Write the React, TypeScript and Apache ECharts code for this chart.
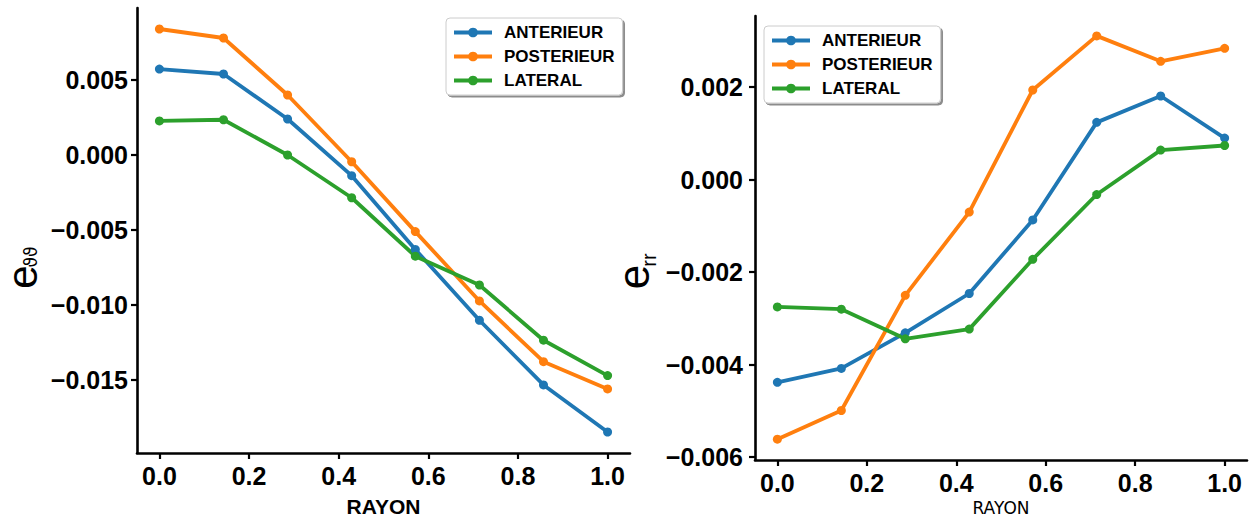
import React, { useEffect, useRef } from "react";
import * as echarts from "echarts";

const rayon = [0, 0.143, 0.286, 0.429, 0.571, 0.714, 0.857, 1.0];
const seriesNames = ["ANTERIEUR", "POSTERIEUR", "LATERAL"];
const colors = ["#1f77b4", "#ff7f0e", "#2ca02c"];

// Left panel: e_theta theta
const ettAnterieur = [0.00573, 0.0054, 0.0024, -0.00138, -0.0063, -0.01102, -0.01533, -0.01847];
const ettPosterieur = [0.0084, 0.0078, 0.004, -0.00045, -0.00511, -0.00973, -0.01378, -0.0156];
const ettLateral = [0.00227, 0.00235, 0.0, -0.00285, -0.00675, -0.00867, -0.01235, -0.01471];

// Right panel: e_rr
const errAnterieur = [-0.00438, -0.00408, -0.00331, -0.00246, -0.00087, 0.00124, 0.00181, 0.0009];
const errPosterieur = [-0.00561, -0.00499, -0.0025, -0.0007, 0.00194, 0.00311, 0.00256, 0.00284];
const errLateral = [-0.00275, -0.0028, -0.00344, -0.00323, -0.00172, -0.00032, 0.00064, 0.00074];

const xTicks = [0, 0.2, 0.4, 0.6, 0.8, 1.0];
const ettTicks = [-0.015, -0.01, -0.005, 0, 0.005];
const errTicks = [-0.006, -0.004, -0.002, 0, 0.002];

const FONT = "Liberation Sans, Arial, sans-serif";

const fmt = (v: number, d: number) => {
  const s = Math.abs(v) < 1e-12 ? (0).toFixed(d) : v.toFixed(d);
  return s.replace("-", "\u2212");
};

export default function App() {
  const ref = useRef<HTMLDivElement>(null);
  useEffect(() => {
    if (!ref.current) return;
    const chart = echarts.init(ref.current, undefined, { renderer: "svg" });

    const axisLine = { show: true, onZero: false, lineStyle: { color: "#000", width: 2.6 } };
    const axisTick = (vals: number[]) => ({
      show: true,
      inside: false,
      length: 6,
      lineStyle: { color: "#000", width: 2.2 },
      customValues: vals,
    });
    const tickLabel = (vals: number[], d: number, margin: number) => ({
      show: true,
      customValues: vals,
      formatter: (v: number) => fmt(v, d),
      fontFamily: FONT,
      fontWeight: "bold" as const,
      fontSize: 25,
      color: "#000",
      margin,
    });

    const xAxisBase = (gridIndex: number) => ({
      type: "value" as const,
      gridIndex,
      min: -0.05,
      max: 1.05,
      axisLine,
      axisTick: axisTick(xTicks),
      axisLabel: tickLabel(xTicks, 1, 10),
      splitLine: { show: false },
    });

    const legendBase = {
      orient: "vertical" as const,
      data: seriesNames,
      itemWidth: 38,
      itemHeight: 12,
      itemGap: 7,
      padding: [6, 8, 6, 6],
      backgroundColor: "#fff",
      borderColor: "#cccccc",
      borderWidth: 1,
      borderRadius: 4,
      shadowColor: "rgba(0,0,0,0.45)",
      shadowOffsetX: 2,
      shadowOffsetY: 2,
      shadowBlur: 1,
      selectedMode: false,
      lineStyle: { width: 4 },
      textStyle: {
        fontFamily: FONT,
        fontWeight: "bold" as const,
        fontSize: 17,
        color: "#000",
        padding: [0, 0, 0, 7],
      },
    };

    const mkSeries = (name: string, color: string, ys: number[], idx: number) => ({
      name,
      type: "line" as const,
      xAxisIndex: idx,
      yAxisIndex: idx,
      data: rayon.map((x, i) => [x, ys[i]]),
      symbol: "circle",
      symbolSize: 9,
      showSymbol: true,
      lineStyle: { color, width: 3.8 },
      itemStyle: { color },
      emphasis: { disabled: true },
    });

    chart.setOption({
      animation: false,
      backgroundColor: "#fff",
      grid: [
        { left: 137, top: 8, width: 493, height: 445 },
        { left: 755, top: 16, width: 492, height: 444 },
      ],
      xAxis: [
        {
          ...xAxisBase(0),
          name: "RAYON",
          nameLocation: "middle",
          nameGap: 43,
          nameTextStyle: { fontFamily: FONT, fontWeight: "bold", fontSize: 21, color: "#000" },
        },
        {
          ...xAxisBase(1),
          name: "RAYON",
          nameLocation: "middle",
          nameGap: 27,
          nameTextStyle: { fontFamily: "DejaVu Sans, sans-serif", fontWeight: "normal", fontSize: 17, color: "#000" },
        },
      ],
      yAxis: [
        {
          type: "value",
          gridIndex: 0,
          min: -0.01987,
          max: 0.0098,
          axisLine,
          axisTick: axisTick(ettTicks),
          axisLabel: tickLabel(ettTicks, 3, 9),
          splitLine: { show: false },
        },
        {
          type: "value",
          gridIndex: 1,
          min: -0.00606,
          max: 0.00354,
          axisLine,
          axisTick: axisTick(errTicks),
          axisLabel: tickLabel(errTicks, 3, 12),
          splitLine: { show: false },
        },
      ],
      legend: [
        { ...legendBase, left: 446, top: 18 },
        { ...legendBase, left: 764, top: 26 },
      ],
      graphic: [
        {
          type: "text",
          x: 22,
          y: 277,
          rotation: Math.PI / 2,
          style: { text: "e", font: `42px ${FONT}`, lineHeight: 34, fill: "#000", align: "center", verticalAlign: "middle" },
        },
        {
          type: "text",
          x: 39,
          y: 257,
          rotation: Math.PI / 2,
          style: { text: "\u03d1\u03d1", font: `17px DejaVu Sans, sans-serif`, fill: "#000", align: "center", verticalAlign: "bottom" },
        },
        {
          type: "text",
          x: 633,
          y: 277,
          rotation: Math.PI / 2,
          style: { text: "e", font: `44px ${FONT}`, lineHeight: 34, fill: "#000", align: "center", verticalAlign: "middle" },
        },
        {
          type: "text",
          x: 659,
          y: 260,
          rotation: Math.PI / 2,
          style: { text: "rr", font: `20px ${FONT}`, fill: "#000", align: "center", verticalAlign: "bottom" },
        },
      ],
      series: [
        mkSeries(seriesNames[0], colors[0], ettAnterieur, 0),
        mkSeries(seriesNames[1], colors[1], ettPosterieur, 0),
        mkSeries(seriesNames[2], colors[2], ettLateral, 0),
        mkSeries(seriesNames[0], colors[0], errAnterieur, 1),
        mkSeries(seriesNames[1], colors[1], errPosterieur, 1),
        mkSeries(seriesNames[2], colors[2], errLateral, 1),
      ],
    });
    return () => chart.dispose();
  }, []);
  return (
    <div
      ref={ref}
      style={{ position: "fixed", left: 0, top: 0, width: 1254, height: 523, background: "#fff" }}
    />
  );
}
